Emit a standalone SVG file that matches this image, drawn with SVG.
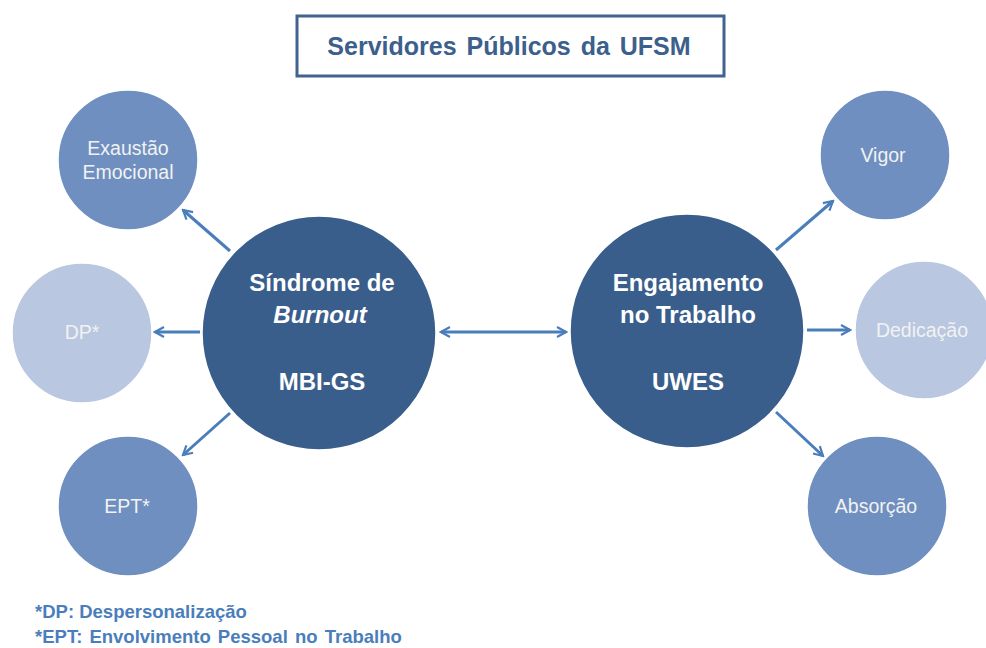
<svg xmlns="http://www.w3.org/2000/svg" width="986" height="648" viewBox="0 0 986 648">
<style>
.big{fill:#3a5e8b;stroke:#ffffff;stroke-width:1.5}
.mid{fill:#6e8fc0;stroke:#ffffff;stroke-width:1.5}
.light{fill:#b9c7e0;stroke:#ffffff;stroke-width:1.5}
.t{font-family:"Liberation Sans",Arial,sans-serif;text-anchor:middle}
.bt{font-family:"Liberation Sans",Arial,sans-serif;text-anchor:middle;font-weight:bold;font-size:24px;fill:#ffffff}
.st{font-family:"Liberation Sans",Arial,sans-serif;text-anchor:middle;font-size:19.5px;fill:#f2f2f2}
.con{stroke:#4a7ebb;stroke-width:3;fill:none}
.fn{font-family:"Liberation Sans",Arial,sans-serif;font-weight:bold;font-size:18.5px;fill:#4a7ebb}
</style>
<defs>
<marker id="ah" viewBox="0 0 12 12" refX="10" refY="6" markerWidth="4" markerHeight="4" orient="auto-start-reverse" markerUnits="strokeWidth">
<path d="M1,1 L10,6 L1,11" fill="none" stroke="#4a7ebb" stroke-width="2.2" stroke-linejoin="miter"/>
</marker>
</defs>
<rect width="986" height="648" fill="#ffffff"/>
<g id="title">
<rect x="297" y="16" width="427" height="60" fill="#ffffff" stroke="#41638f" stroke-width="3"/>
<text class="t" x="509" y="55" font-size="25" font-weight="bold" fill="#3c5f8c" word-spacing="3">Servidores Públicos da UFSM</text>
</g>
<g id="connectors">
<line class="con" x1="230" y1="251" x2="183" y2="210" marker-end="url(#ah)"/>
<line class="con" x1="200" y1="332" x2="155" y2="332" marker-end="url(#ah)"/>
<line class="con" x1="230" y1="413" x2="183" y2="455" marker-end="url(#ah)"/>
<line class="con" x1="441" y1="332" x2="566" y2="332" marker-start="url(#ah)" marker-end="url(#ah)"/>
<line class="con" x1="776" y1="250" x2="833" y2="201" marker-end="url(#ah)"/>
<line class="con" x1="807" y1="330" x2="850" y2="330" marker-end="url(#ah)"/>
<line class="con" x1="776" y1="412" x2="823" y2="456" marker-end="url(#ah)"/>
</g>
<g id="burnout">
<circle class="big" cx="319" cy="333" r="117"/>
<text class="bt" x="322" y="291">Síndrome de</text>
<text class="bt" x="320" y="323" font-style="italic">Burnout</text>
<text class="bt" x="322" y="390">MBI-GS</text>
</g>
<g id="engajamento">
<circle class="big" cx="687" cy="331" r="117"/>
<text class="bt" x="688" y="291">Engajamento</text>
<text class="bt" x="688" y="323">no Trabalho</text>
<text class="bt" x="688" y="390">UWES</text>
</g>
<g id="exaustao">
<circle class="mid" cx="128" cy="160" r="70"/>
<text class="st" x="128" y="155">Exaustão</text>
<text class="st" x="128" y="179">Emocional</text>
</g>
<g id="dp">
<circle class="light" cx="82" cy="333" r="70"/>
<text class="st" x="82" y="339">DP*</text>
</g>
<g id="ept">
<circle class="mid" cx="128" cy="506" r="70"/>
<text class="st" x="127" y="513">EPT*</text>
</g>
<g id="vigor">
<circle class="mid" cx="885" cy="155" r="65"/>
<text class="st" x="883" y="162">Vigor</text>
</g>
<g id="dedicacao">
<circle class="light" cx="924" cy="330" r="69"/>
<text class="st" x="922" y="337">Dedicação</text>
</g>
<g id="absorcao">
<circle class="mid" cx="877" cy="506" r="70"/>
<text class="st" x="876" y="513">Absorção</text>
</g>
<g id="footnotes">
<text class="fn" x="35" y="618">*DP: Despersonalização</text>
<text class="fn" x="35" y="643" word-spacing="2">*EPT: Envolvimento Pessoal no Trabalho</text>
</g>
</svg>
